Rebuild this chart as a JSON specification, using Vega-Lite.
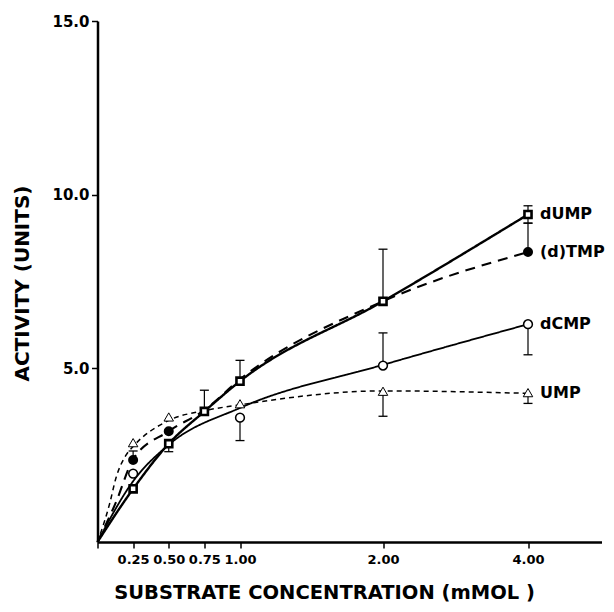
{
  "$schema": "https://vega.github.io/schema/vega-lite/v6.json",
  "width": 504,
  "height": 521,
  "autosize": {"type": "none"},
  "padding": {"left": 97.5, "top": 21, "right": 12.5, "bottom": 70},
  "background": "white",
  "config": {
    "view": {"stroke": null},
    "axis": {
      "grid": false,
      "domainColor": "black",
      "tickColor": "black",
      "labelColor": "black",
      "titleColor": "black",
      "labelFont": "DejaVu Sans",
      "titleFont": "DejaVu Sans",
      "labelFontWeight": "bold",
      "titleFontWeight": "bold"
    }
  },
  "datasets": {
    "curves": [
      {"series": "dUMP", "conc": 0, "activity": 0},
      {"series": "dUMP", "conc": 0.25, "activity": 1.53},
      {"series": "dUMP", "conc": 0.5, "activity": 2.83},
      {"series": "dUMP", "conc": 0.75, "activity": 3.76},
      {"series": "dUMP", "conc": 1, "activity": 4.63},
      {"series": "dUMP", "conc": 2, "activity": 6.93},
      {"series": "dUMP", "conc": 4, "activity": 9.43},
      {"series": "(d)TMP", "conc": 0, "activity": 0},
      {"series": "(d)TMP", "conc": 0.13, "activity": 1.15},
      {"series": "(d)TMP", "conc": 0.25, "activity": 2.38},
      {"series": "(d)TMP", "conc": 0.5, "activity": 3.19},
      {"series": "(d)TMP", "conc": 0.75, "activity": 3.8},
      {"series": "(d)TMP", "conc": 1, "activity": 4.68},
      {"series": "(d)TMP", "conc": 2, "activity": 6.93},
      {"series": "(d)TMP", "conc": 4, "activity": 8.35},
      {"series": "dCMP", "conc": 0, "activity": 0},
      {"series": "dCMP", "conc": 0.25, "activity": 1.75},
      {"series": "dCMP", "conc": 0.5, "activity": 2.8},
      {"series": "dCMP", "conc": 1, "activity": 3.86},
      {"series": "dCMP", "conc": 2, "activity": 5.1},
      {"series": "dCMP", "conc": 4, "activity": 6.27},
      {"series": "UMP", "conc": 0, "activity": 0},
      {"series": "UMP", "conc": 0.085, "activity": 1.1},
      {"series": "UMP", "conc": 0.13, "activity": 1.85},
      {"series": "UMP", "conc": 0.2, "activity": 2.5},
      {"series": "UMP", "conc": 0.25, "activity": 2.75},
      {"series": "UMP", "conc": 0.5, "activity": 3.5},
      {"series": "UMP", "conc": 0.75, "activity": 3.78},
      {"series": "UMP", "conc": 1, "activity": 3.95},
      {"series": "UMP", "conc": 2, "activity": 4.35},
      {"series": "UMP", "conc": 4, "activity": 4.28}
    ],
    "points": [
      {"series": "dUMP", "conc": 0.25, "activity": 1.53},
      {"series": "dUMP", "conc": 0.5, "activity": 2.83},
      {"series": "dUMP", "conc": 0.75, "activity": 3.76},
      {"series": "dUMP", "conc": 1, "activity": 4.63},
      {"series": "dUMP", "conc": 2, "activity": 6.93},
      {"series": "dUMP", "conc": 4, "activity": 9.43},
      {"series": "(d)TMP", "conc": 0.25, "activity": 2.36},
      {"series": "(d)TMP", "conc": 0.5, "activity": 3.19},
      {"series": "(d)TMP", "conc": 4, "activity": 8.35},
      {"series": "dCMP", "conc": 0.25, "activity": 1.97},
      {"series": "dCMP", "conc": 1, "activity": 3.58},
      {"series": "dCMP", "conc": 2, "activity": 5.08},
      {"series": "dCMP", "conc": 4, "activity": 6.27},
      {"series": "UMP", "conc": 0.25, "activity": 2.86},
      {"series": "UMP", "conc": 0.5, "activity": 3.6},
      {"series": "UMP", "conc": 1, "activity": 3.98},
      {"series": "UMP", "conc": 2, "activity": 4.34},
      {"series": "UMP", "conc": 4, "activity": 4.3}
    ],
    "errors": [
      {"series": "dUMP", "conc": 4, "from": 9.43, "to": 9.68},
      {"series": "dUMP", "conc": 4, "from": 9.43, "to": 9.18},
      {"series": "(d)TMP", "conc": 4, "from": 8.35, "to": 9.18},
      {"series": "(d)TMP", "conc": 2, "from": 6.93, "to": 8.43},
      {"series": "(d)TMP", "conc": 1, "from": 4.63, "to": 5.23},
      {"series": "(d)TMP", "conc": 0.75, "from": 3.76, "to": 4.37},
      {"series": "(d)TMP", "conc": 0.25, "from": 2.36, "to": 2.62},
      {"series": "dCMP", "conc": 0.5, "from": 2.83, "to": 2.6},
      {"series": "dCMP", "conc": 1, "from": 3.58, "to": 2.92},
      {"series": "dCMP", "conc": 2, "from": 5.08, "to": 6.02},
      {"series": "dCMP", "conc": 4, "from": 6.27, "to": 5.39},
      {"series": "UMP", "conc": 2, "from": 4.34, "to": 3.62},
      {"series": "UMP", "conc": 4, "from": 4.3, "to": 3.99}
    ]
  },
  "resolve": {"scale": {"strokeWidth": "independent", "size": "independent"}},
  "layer": [
    {
      "data": {"name": "curves"},
      "mark": {"type": "line", "interpolate": "monotone", "color": "black"},
      "encoding": {
        "x": {
          "field": "conc",
          "type": "quantitative",
          "scale": {"type": "linear", "domain": [0, 1, 2, 4, 5.7], "range": [0, 142.5, 285.5, 430.5, 504], "nice": false},
          "axis": {
            "values": [0, 0.25, 0.5, 0.75, 1, 2, 4],
            "labelExpr": "datum.value == 0 ? '' : format(datum.value, '.2f')",
            "domainWidth": 2.5,
            "tickWidth": 1.5,
            "tickSize": 6,
            "labelPadding": 5,
            "labelFontSize": 13,
            "labelFlush": false,
            "labelOverlap": false,
            "title": "SUBSTRATE CONCENTRATION (mMOL )",
            "titleFontSize": 19.5,
            "titleX": 226.5,
            "titleY": 50,
            "titleAnchor": null,
            "titleAlign": "center",
            "titleBaseline": "middle"
          }
        },
        "y": {
          "field": "activity",
          "type": "quantitative",
          "scale": {"domain": [0, 15], "nice": false, "zero": true},
          "axis": {
            "values": [5, 10, 15],
            "format": ".1f",
            "domainWidth": 2.5,
            "tickWidth": 1.5,
            "tickSize": 6,
            "labelPadding": 2.5,
            "labelFontSize": 15,
            "title": "ACTIVITY (UNITS)",
            "titleFontSize": 20,
            "titleAngle": -90,
            "titleX": -75,
            "titleY": 262,
            "titleAlign": "center",
            "titleBaseline": "middle"
          }
        },
        "detail": {"field": "series"},
        "strokeDash": {
          "field": "series",
          "scale": {"domain": ["dUMP", "(d)TMP", "dCMP", "UMP"], "range": [[1, 0], [10, 7], [1, 0], [5, 4]]},
          "legend": null
        },
        "strokeWidth": {
          "field": "series",
          "scale": {"domain": ["dUMP", "(d)TMP", "dCMP", "UMP"], "range": [2.4, 1.5, 1.5, 1.5]},
          "legend": null
        }
      }
    },
    {
      "data": {"name": "errors"},
      "mark": {"type": "rule", "color": "black", "strokeWidth": 1.2},
      "encoding": {
        "x": {"field": "conc", "type": "quantitative"},
        "y": {"field": "from", "type": "quantitative"},
        "y2": {"field": "to"}
      }
    },
    {
      "data": {"name": "errors"},
      "mark": {"type": "tick", "orient": "horizontal", "color": "black", "size": 9, "thickness": 1.3, "opacity": 1},
      "encoding": {
        "x": {"field": "conc", "type": "quantitative"},
        "y": {"field": "to", "type": "quantitative"}
      }
    },
    {
      "data": {"name": "points"},
      "mark": {"type": "point", "filled": true, "stroke": "black", "opacity": 1},
      "encoding": {
        "x": {"field": "conc", "type": "quantitative"},
        "y": {"field": "activity", "type": "quantitative"},
        "shape": {
          "field": "series",
          "scale": {"domain": ["dUMP", "(d)TMP", "dCMP", "UMP"], "range": ["square", "circle", "circle", "triangle-up"]},
          "legend": null
        },
        "fill": {
          "field": "series",
          "scale": {"domain": ["dUMP", "(d)TMP", "dCMP", "UMP"], "range": ["white", "black", "white", "white"]},
          "legend": null
        },
        "size": {
          "field": "series",
          "scale": {"domain": ["dUMP", "(d)TMP", "dCMP", "UMP"], "range": [50, 90, 75, 95]},
          "legend": null
        },
        "strokeWidth": {
          "field": "series",
          "scale": {"domain": ["dUMP", "(d)TMP", "dCMP", "UMP"], "range": [2.6, 1, 1.4, 1.4]},
          "legend": null
        }
      }
    },
    {
      "data": {"name": "points"},
      "transform": [{"filter": "datum.conc == 4"}],
      "mark": {"type": "text", "align": "left", "baseline": "middle", "dx": 12, "font": "DejaVu Sans", "fontWeight": "bold", "fontSize": 16, "color": "black"},
      "encoding": {
        "x": {"field": "conc", "type": "quantitative"},
        "y": {"field": "activity", "type": "quantitative"},
        "text": {"field": "series"}
      }
    }
  ]
}
